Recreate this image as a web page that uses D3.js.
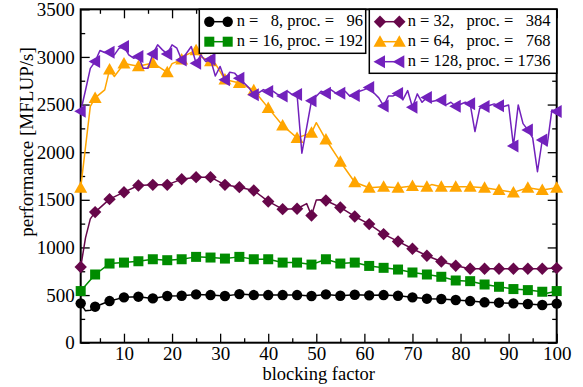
<!DOCTYPE html>
<html>
<head>
<meta charset="utf-8">
<script src="https://cdn.jsdelivr.net/npm/d3@7"></script>
<style>
  body { margin: 0; background: #fff; }
  svg text { font-family: "Liberation Serif", "Times New Roman", "DejaVu Serif", serif; }
</style>
</head>
<body>
<svg id="chart" width="583" height="387"></svg>
<script>
// x positions of the markers (every third blocking factor)
const markX = [1, 4, 7, 10, 13, 16, 19, 22, 25, 28, 31, 34, 37, 40, 43, 46, 49,
  52, 55, 58, 61, 64, 67, 70, 73, 76, 79, 82, 85, 88, 91, 94, 97, 100];

const n8 = [413, 378, 437, 476, 483, 465, 490, 493, 507, 500, 490, 510, 500, 500,
  500, 500, 490, 507, 493, 503, 497, 500, 493, 476, 462, 459, 448, 437, 424, 420,
  413, 406, 396, 410];
const n8Extra = [[2, 335], [3, 340]];

const n16 = [542, 716, 831, 841, 855, 876, 866, 876, 901, 894, 883, 901, 876, 876,
  841, 841, 820, 876, 831, 841, 806, 786, 768, 737, 716, 692, 653, 646, 611, 587,
  563, 552, 535, 542];
const n16Extra = [[98, 520]];

const n32 = [794, 1371, 1507, 1580, 1650, 1657, 1657, 1717, 1738, 1738, 1657, 1633,
  1598, 1483, 1402, 1406, 1336, 1493, 1420, 1325, 1245, 1140, 1063, 986, 913, 853,
  808, 776, 776, 776, 776, 776, 776, 783];
const n32Extra = [[2, 1100], [3, 1300], [48, 1460], [50, 1498], [51, 1500]];

const n64 = [1626, 2570, 2867, 2930, 2902, 2937, 2839, 2972, 3070, 2955, 2762, 2727,
  2650, 2465, 2280, 2150, 2203, 2133, 1900, 1684, 1627, 1638, 1627, 1645, 1638, 1638,
  1638, 1638, 1627, 1603, 1578, 1627, 1603, 1627];
const n64Extra = [[3, 2480], [6, 2654], [8, 2794], [20, 2930], [23, 3022], [26, 3000],
  [29, 2930], [50, 2310], [74, 1660]];

// n = 128 was sampled at every blocking factor 1..100
const n128 = [2430, 2650, 2880, 2951, 3067, 3046, 3050, 3022, 3092, 3109,
  3022, 2987, 3004, 2882, 2882, 3032, 3127, 3074, 3032, 3127,
  3092, 2969, 3039, 3109, 2934, 3022, 2951, 2976, 2800, 2900,
  2760, 2840, 2830, 2777, 2727, 2675, 2603, 2622, 2657, 2638,
  2640, 2605, 2590, 2640, 2605, 2605, 1990, 2260, 2540, 2587,
  2640, 2620, 2657, 2622, 2620, 2640, 2587, 2595, 2640, 2657,
  2680, 2622, 2570, 2485, 2590, 2591, 2615, 2549, 2647, 2472,
  2612, 2524, 2575, 2531, 2542, 2545, 2496, 2524, 2482, 2503,
  2524, 2508, 2217, 2462, 2479, 2490, 2507, 2488, 2480, 2495,
  2066, 2496, 2300, 2234, 2150, 1795, 2128, 2066, 2444, 2427];

const xMajor = [10, 20, 30, 40, 50, 60, 70, 80, 90, 100];
const xMinor = [5, 15, 25, 35, 45, 55, 65, 75, 85, 95];
const yMajor = [0, 500, 1000, 1500, 2000, 2500, 3000, 3500];
const yMinor = [250, 750, 1250, 1750, 2250, 2750, 3250];

const serif = '"Liberation Serif", "Times New Roman", "DejaVu Serif", serif';
const pL = 80.7, pR = 556.7, pT = 9.3, pB = 342.7;
const svg = d3.select("#chart");

const x = d3.scaleLinear().domain([1, 100]).range([pL, pR]);
const y = d3.scaleLinear().domain([0, 3500]).range([pB, pT]);

function pairs(values, extra) {
  let pts = markX.map((d, i) => [d, values[i]]);
  return pts.concat(extra || []).sort((a, b) => a[0] - b[0]);
}

const symbols = {
  circle: (g) => g.append("circle").attr("r", 5.2),
  square: (g) => g.append("rect").attr("x", -5).attr("y", -5).attr("width", 10).attr("height", 10),
  diamond: (g) => g.append("path").attr("d", "M0,-6.2L6.2,0L0,6.2L-6.2,0Z"),
  up: (g) => g.append("path").attr("d", "M0,-6.5L6.5,5L-6.5,5Z"),
  left: (g) => g.append("path").attr("d", "M-6.5,0L5,-6.5L5,6.5Z"),
};

const series = [
  { name: "n8", color: "#000000", shape: "circle", line: pairs(n8, n8Extra) },
  { name: "n16", color: "#008c00", shape: "square", line: pairs(n16, n16Extra) },
  { name: "n32", color: "#67074a", shape: "diamond", line: pairs(n32, n32Extra) },
  { name: "n64", color: "#ffa500", shape: "up", line: pairs(n64, n64Extra) },
  {
    name: "n128", color: "#7221bc", shape: "left",
    line: n128.map((d, i) => [i + 1, d]),
  },
];
series.forEach((s) => {
  s.marks = s.line.filter((d) => markX.includes(d[0]));
});

// axes (ticks point inward on all four sides)
function axisGroup(axis, tx, ty) {
  const g = svg.append("g")
    .attr("transform", `translate(${tx},${ty})`)
    .call(axis)
    .attr("font-family", serif)
    .attr("font-size", 19);
  g.select(".domain").remove();
  g.selectAll(".tick line").attr("stroke", "#000").attr("stroke-width", 1.3);
  g.selectAll("text").attr("fill", "#000");
  return g;
}

const fmt = d3.format("d");
axisGroup(d3.axisBottom(x).tickValues(xMajor).tickFormat(fmt).tickSizeInner(-9).tickSizeOuter(0).tickPadding(4), 0, pB);
axisGroup(d3.axisBottom(x).tickValues(xMinor).tickSizeInner(-4.5).tickSizeOuter(0).tickFormat(""), 0, pB);
axisGroup(d3.axisTop(x).tickValues(xMajor).tickSizeInner(-9).tickSizeOuter(0).tickFormat(""), 0, pT);
axisGroup(d3.axisTop(x).tickValues(xMinor).tickSizeInner(-4.5).tickSizeOuter(0).tickFormat(""), 0, pT);
axisGroup(d3.axisLeft(y).tickValues(yMajor).tickFormat(fmt).tickSizeInner(-9).tickSizeOuter(0).tickPadding(6), pL, 0);
axisGroup(d3.axisLeft(y).tickValues(yMinor).tickSizeInner(-4.5).tickSizeOuter(0).tickFormat(""), pL, 0);
axisGroup(d3.axisRight(y).tickValues(yMajor).tickSizeInner(-9).tickSizeOuter(0).tickFormat(""), pR, 0);
axisGroup(d3.axisRight(y).tickValues(yMinor).tickSizeInner(-4.5).tickSizeOuter(0).tickFormat(""), pR, 0);

svg.append("rect")
  .attr("x", pL).attr("y", pT)
  .attr("width", pR - pL).attr("height", pB - pT)
  .attr("fill", "none").attr("stroke", "#000").attr("stroke-width", 2);

// axis titles
svg.append("text")
  .attr("x", (pL + pR) / 2).attr("y", 380)
  .attr("text-anchor", "middle").attr("font-size", 18.5)
  .attr("font-family", serif)
  .text("blocking factor");

svg.append("text")
  .attr("transform", "translate(33,142) rotate(-90)")
  .attr("text-anchor", "middle").attr("font-size", 19)
  .attr("font-family", serif)
  .text("performance [MFLUP/s]");

// lines and markers
const line = d3.line().x((d) => x(d[0])).y((d) => y(d[1]));

series.forEach((s) => {
  svg.append("path")
    .datum(s.line)
    .attr("d", line)
    .attr("fill", "none")
    .attr("stroke", s.color)
    .attr("stroke-width", 1.5)
    .attr("stroke-linejoin", "round");

  svg.append("g")
    .selectAll("g")
    .data(s.marks)
    .join("g")
    .attr("transform", (d) => `translate(${x(d[0])},${y(d[1])})`)
    .attr("fill", s.color)
    .each(function () {
      symbols[s.shape](d3.select(this));
    });
});

// legends
const legendBoxes = [
  { x: 199.3, w: 166.4, h: 44, mx: [209.3, 227.7], tx: 236.7,
    rows: [[series[0], "n =   8, proc. =   96"], [series[1], "n = 16, proc. = 192"]] },
  { x: 369.3, w: 187.4, h: 64, mx: [380, 399.3], tx: 407.7,
    rows: [[series[2], "n = 32,   proc. =   384"], [series[3], "n = 64,   proc. =   768"],
      [series[4], "n = 128, proc. = 1736"]] },
];

legendBoxes.forEach((b) => {
  const g = svg.append("g");
  g.append("rect")
    .attr("x", b.x).attr("y", pT)
    .attr("width", b.w).attr("height", b.h)
    .attr("fill", "#fff").attr("stroke", "#000").attr("stroke-width", 1.5);
  b.rows.forEach(([s, label], i) => {
    const cy = 21.7 + i * 20;
    g.append("line")
      .attr("x1", b.mx[0]).attr("x2", b.mx[1])
      .attr("y1", cy).attr("y2", cy)
      .attr("stroke", s.color).attr("stroke-width", 1.5);
    b.mx.forEach((mx) => {
      const m = g.append("g").attr("transform", `translate(${mx},${cy})`).attr("fill", s.color);
      symbols[s.shape](m);
    });
    g.append("text")
      .attr("x", b.tx).attr("y", cy + 4.5)
      .attr("font-size", 16.5)
      .attr("font-family", serif)
      .attr("xml:space", "preserve")
      .style("white-space", "pre")
      .text(label);
  });
});
</script>
</body>
</html>
